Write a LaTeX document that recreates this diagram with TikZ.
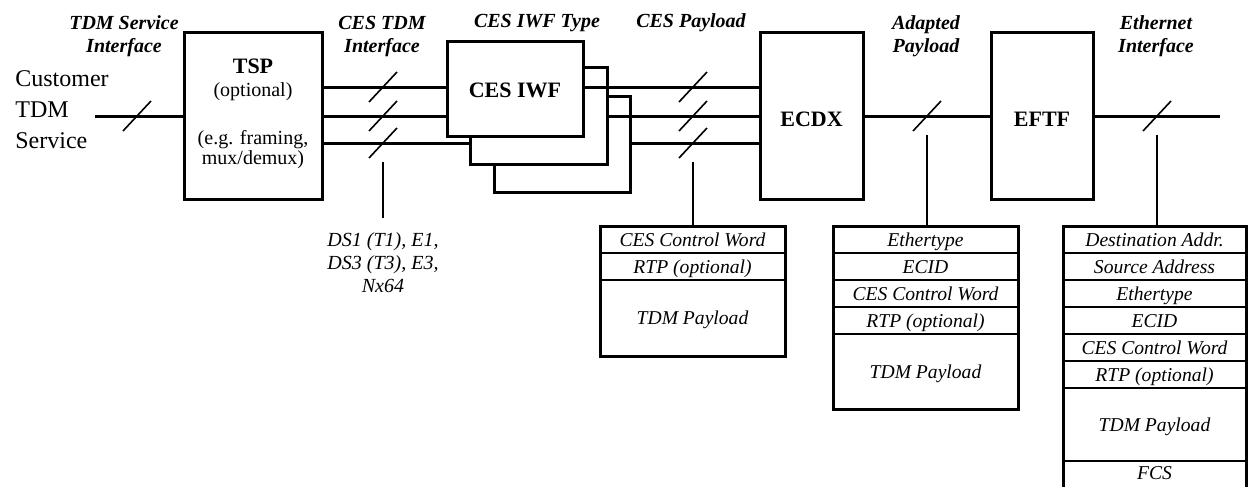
\documentclass[tikz,border=0pt]{standalone}
\usepackage{fontspec}
\setmainfont{Liberation Serif}
\newcommand{\slashat}[1]{\draw[slashline] (#1) ++(-14,15) -- ++(28,-30);}
\begin{document}
\begin{tikzpicture}[x=0.5pt,y=-0.5pt,
  box/.style={draw,line width=1.5pt,fill=white,inner sep=0pt},
  wire/.style={line width=1.5pt},
  slashline/.style={line width=0.8pt},
  leader/.style={line width=1pt},
  toplbl/.style={font=\fontsize{10}{12}\selectfont\bfseries\itshape,anchor=base,inner sep=0pt},
  boxlbl/.style={font=\fontsize{11}{13}\selectfont\bfseries,anchor=base,inner sep=0pt},
  plainlbl/.style={font=\fontsize{10}{12}\selectfont,anchor=base,inner sep=0pt},
  cust/.style={font=\fontsize{12}{14}\selectfont,anchor=base west,inner sep=0pt},
  note/.style={font=\fontsize{10}{12}\selectfont\itshape,anchor=base,inner sep=0pt},
  field/.style={draw,line width=1pt,inner sep=0pt,outer sep=0pt,font=\fontsize{9.8}{11}\selectfont\itshape,
    text height=6.5pt,text depth=0pt,anchor=north,minimum height=13.5pt},
  frame/.style={line width=1.5pt},
]
\useasboundingbox (0,0) rectangle (1248,487);

% ---------- boxes ----------
\node[box,minimum width=69pt,minimum height=83.5pt] (tsp) at (253,115.5) {};
\node[box,minimum width=68pt,minimum height=48pt] (iwf3) at (562,144) {};
\node[box,minimum width=68.5pt,minimum height=48.5pt] (iwf2) at (538.5,115.5) {};
\node[box,minimum width=68pt,minimum height=47.5pt] (iwf1) at (515,88.5) {};
\node[box,minimum width=51.5pt,minimum height=83.5pt] (ecdx) at (811.5,115.5) {};
\node[box,minimum width=51pt,minimum height=83.5pt] (eftf) at (1042,115.5) {};

% ---------- box texts ----------
\node[boxlbl] (tspT) at (253,73) {TSP};
\node[plainlbl] (tspO) at (253,96) {(optional)};
\node[plainlbl] (tspE1) at (253,144) {(e.g. framing,};
\node[plainlbl] (tspE2) at (253,164) {mux/demux)};
\node[boxlbl] (iwfT) at (515,97) {CES IWF};
\node[boxlbl] (ecdxT) at (811.5,126) {ECDX};
\node[boxlbl] (eftfT) at (1042,126) {EFTF};

% ---------- customer ----------
\node[cust] (c1) at (15,86) {Customer};
\node[cust] (c2) at (15,117) {TDM};
\node[cust] (c3) at (15,148) {Service};
\coordinate (inStart) at (95,116);

% ---------- wires ----------
\draw[wire] (inStart) -- (tsp.west |- inStart);
\draw[wire] (tsp.east |- 0,87) -- (iwf1.west |- 0,87);
\draw[wire] (tsp.east |- 0,116) -- (iwf1.west |- 0,116);
\draw[wire] (tsp.east |- 0,143) -- (iwf2.west |- 0,143);
\draw[wire] (iwf1.east |- 0,87) -- (ecdx.west |- 0,87);
\draw[wire] (iwf2.east |- 0,116) -- (ecdx.west |- 0,116);
\draw[wire] (iwf3.east |- 0,143) -- (ecdx.west |- 0,143);
\draw[wire] (ecdx.east |- 0,116) -- (eftf.west |- 0,116);
\coordinate (outEnd) at (1220,116);
\draw[wire] (eftf.east |- outEnd) -- (outEnd);

% ---------- slashes ----------
\coordinate (s0) at (137,116);
\coordinate (s1) at (383,87);
\coordinate (s2) at (383,116);
\coordinate (s3) at (383,143);
\coordinate (p1) at (693,87);
\coordinate (p2) at (693,116);
\coordinate (p3) at (693,143);
\coordinate (s7) at (927,116);
\coordinate (s8) at (1157,116);
\slashat{s0}\slashat{s1}\slashat{s2}\slashat{s3}
\slashat{p1}\slashat{p2}\slashat{p3}\slashat{s7}\slashat{s8}

% ---------- top labels ----------
\node[toplbl] (l1a) at (124,29) {TDM Service};
\node[toplbl] (l1b) at (124,52) {Interface};
\node[toplbl] (l2a) at (382,29) {CES TDM};
\node[toplbl] (l2b) at (382,52) {Interface};
\node[toplbl] (l3) at (537,27) {CES IWF Type};
\node[toplbl] (l4) at (691,27) {CES Payload};
\node[toplbl] (l5a) at (926,29) {Adapted};
\node[toplbl] (l5b) at (926,52) {Payload};
\node[toplbl] (l6a) at (1156,29) {Ethernet};
\node[toplbl] (l6b) at (1156,52) {Interface};

% ---------- DS note ----------
\coordinate (dsTop) at (383,162);
\coordinate (dsBot) at (383,218);
\draw[leader] (dsTop) -- (dsBot);
\node[note] (ds1) at (383,246) {DS1 (T1), E1,};
\node[note] (ds2) at (383,269) {DS3 (T3), E3,};
\node[note] (ds3) at (383,292) {Nx64};

% ---------- table 1 ----------
\begin{scope}[field/.append style={minimum width=92.5pt}]
\node[field] (a1) at (692.5,226) {CES Control Word};
\node[field] (a2) at (a1.south) {RTP (optional)};
\node[field,minimum height=38pt] (a3) at (a2.south) {TDM Payload};
\end{scope}
\draw[frame] (a1.north west) rectangle (a3.south east);

% ---------- table 2 ----------
\begin{scope}[field/.append style={minimum width=92.5pt}]
\node[field] (b1) at (925.5,226) {Ethertype};
\node[field] (b2) at (b1.south) {ECID};
\node[field] (b3) at (b2.south) {CES Control Word};
\node[field] (b4) at (b3.south) {RTP (optional)};
\node[field,minimum height=37.5pt] (b5) at (b4.south) {TDM Payload};
\end{scope}
\draw[frame] (b1.north west) rectangle (b5.south east);

% ---------- table 3 ----------
\begin{scope}[field/.append style={minimum width=91.5pt}]
\node[field] (t1) at (1154.5,226) {Destination Addr.};
\node[field] (t2) at (t1.south) {Source Address};
\node[field] (t3) at (t2.south) {Ethertype};
\node[field] (t4) at (t3.south) {ECID};
\node[field] (t5) at (t4.south) {CES Control Word};
\node[field] (t6) at (t5.south) {RTP (optional)};
\node[field,minimum height=36.5pt] (t7) at (t6.south) {TDM Payload};
\node[field,minimum height=14.5pt,text depth=3pt] (t8) at (t7.south) {FCS};
\end{scope}
\draw[frame] (t1.north west) rectangle (t8.south east);

% ---------- leaders to tables ----------
\draw[leader] (p3 |- 0,162) -- (p3 |- a1.north);
\draw[leader] (s7 |- 0,135) -- (s7 |- b1.north);
\draw[leader] (s8 |- 0,135) -- (s8 |- t1.north);
\end{tikzpicture}
\end{document}
